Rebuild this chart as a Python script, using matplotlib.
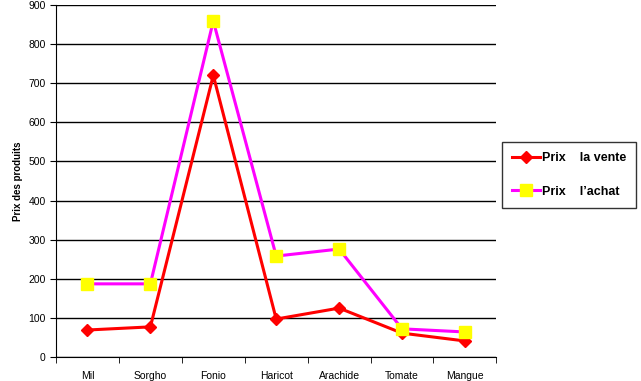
import matplotlib.pyplot as plt
import numpy as np

categories = ['Mil', 'Sorgho', 'Fonio', 'Haricot', 'Arachide', 'Tomate', 'Mangue']
prix_vente = [69, 77, 720, 97, 125, 61, 41]
prix_achat = [187, 187, 859, 258, 276, 72, 64]
y_ticks = [0, 100, 200, 300, 400, 500, 600, 700, 800, 900]

plt.rcParams['font.family'] = ['Liberation Sans', 'DejaVu Sans']

fig = plt.figure(figsize=(6.41, 3.81), dpi=100)
ax = fig.add_axes([0.0874, 0.063, 0.687, 0.924])

x = np.arange(len(categories))
ax.plot(x, prix_vente, color='#ff0000', lw=2.2, marker='D', ms=6,
        mfc='#ff0000', mec='#ff0000', label='Prix    la vente', zorder=3)
ax.plot(x, prix_achat, color='#ff00ff', lw=2.2, marker='s', ms=8,
        mfc='#ffff00', mec='#ffff00', label='Prix    l\u2019achat', zorder=3)

ax.set_xlim(-0.5, len(categories) - 0.5)
ax.set_ylim(0, 900)
ax.set_yticks(y_ticks)
ax.set_xticks(x)
ax.set_xticklabels(categories)
ax.set_xticks(np.arange(-0.5, len(categories)), minor=True)
ax.tick_params(axis='x', which='major', length=0, pad=10, labelsize=7.5)
ax.tick_params(axis='x', which='minor', length=4, direction='out')
ax.tick_params(axis='y', length=4, direction='out', labelsize=7.5)
ax.yaxis.grid(True, color='black', lw=1)
ax.set_axisbelow(True)
for s in ['top', 'right']:
    ax.spines[s].set_visible(False)
ax.set_ylabel('Prix des produits', fontsize=7, fontweight='bold')

leg = fig.legend(loc='center left', bbox_to_anchor=(502 / 641, 1 - 175 / 381),
                 frameon=True, fancybox=False, edgecolor='black',
                 prop={'weight': 'bold', 'size': 9}, handlelength=2.2,
                 handletextpad=0.2, borderpad=0.8, labelspacing=1.7,
                 borderaxespad=0)
leg.get_frame().set_linewidth(1)

fig.savefig('out.png', dpi=100)
